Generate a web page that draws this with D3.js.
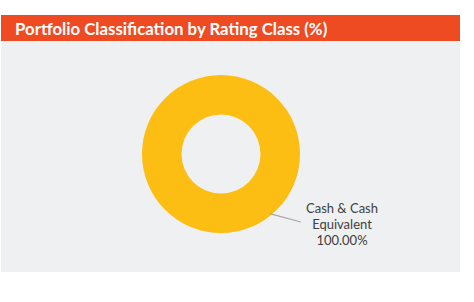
<!DOCTYPE html>
<html>
<head>
<meta charset="utf-8">
<script src="https://cdn.jsdelivr.net/npm/d3@7"></script>
<style>
  body { margin: 0; background: #fff; }
  svg { display: block; }
</style>
</head>
<body>
<div id="chart"></div>
<script>
// data
const categories = ["Cash & Cash Equivalent"];
const values = [100.0];
const colors = ["#FDBE14"];

const width = 474, height = 302;

const svg = d3.select("#chart").append("svg")
  .attr("width", width).attr("height", height);

// panel + header
svg.append("rect").attr("x", 1).attr("y", 41).attr("width", 459).attr("height", 231)
  .attr("fill", "#EFF0F2");
svg.append("rect").attr("x", 1).attr("y", 15).attr("width", 459).attr("height", 26)
  .attr("fill", "#EF4B23");
svg.append("text")
  .attr("x", 15).attr("y", 34.5)
  .attr("font-family", "Lato, 'Open Sans', sans-serif")
  .attr("font-weight", "bold")
  .attr("font-size", 16.8)
  .attr("fill", "#fff")
  .text("Portfolio Classification by Rating Class (%)");

const cx = 221, cy = 154, outerR = 79, innerR = 39.5;

const pie = d3.pie().sort(null).startAngle(0).endAngle(2 * Math.PI);
const arcs = pie(values);
const arc = d3.arc().innerRadius(innerR).outerRadius(outerR);

const g = svg.append("g").attr("transform", `translate(${cx},${cy})`);

g.selectAll("path").data(arcs).enter()
  .append("path")
  .attr("d", arc)
  .attr("fill", (d, i) => colors[i]);

// leader line from the ring's lower right edge out to the label
const labelAngle = Math.PI - Math.atan2(49, 60); // clockwise from 12 o'clock
const r0 = outerR - 2;
const p0 = [Math.sin(labelAngle) * r0, -Math.cos(labelAngle) * r0];
const p1 = [80, 68];
g.append("line")
  .attr("x1", p0[0]).attr("y1", p0[1])
  .attr("x2", p1[0]).attr("y2", p1[1])
  .attr("stroke", "#A6A6A6").attr("stroke-width", 1.2);

const label = g.append("text")
  .attr("text-anchor", "middle")
  .attr("font-family", "Lato, 'Open Sans', sans-serif")
  .attr("font-size", 13)
  .attr("fill", "#404040");
const lines = ["Cash & Cash", "Equivalent", d3.format(".2f")(values[0]) + "%"];
label.selectAll("tspan").data(lines).enter()
  .append("tspan")
  .attr("x", 121)
  .attr("y", (d, i) => 59 + i * 16)
  .text(d => d);
</script>
</body>
</html>
